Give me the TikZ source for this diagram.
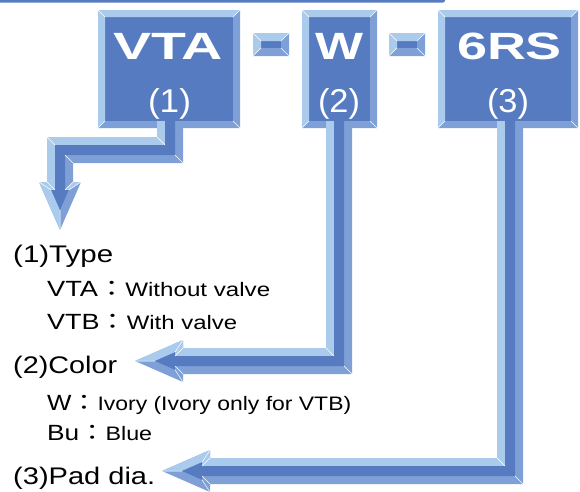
\documentclass[tikz,border=0pt]{standalone}
\usepackage{fontspec}
\setmainfont{Liberation Sans}
\newfontfamily\cjk{Noto Sans CJK JP}
\usepackage{graphicx}
\definecolor{face}{RGB}{86,123,192}
\definecolor{lite}{RGB}{170,203,236}
\definecolor{mid}{RGB}{126,160,214}
\newcommand\fw{{\cjk ：}}
\newcommand\sm{\fontsize{19.5}{19.5}\selectfont}
\newcommand\lbl[3]{\resizebox{#1pt}{\height}{\fontsize{#2}{#2}\selectfont #3}}
\newcommand\bevel[2]{%
 \fill[lite] (#1.north west) -- (#1.north east) -- ([xshift=-#2,yshift=-#2]#1.north east) -- ([xshift=#2,yshift=-#2]#1.north west) -- cycle;
 \fill[lite] (#1.north west) -- ([xshift=#2,yshift=-#2]#1.north west) -- ([xshift=#2,yshift=#2]#1.south west) -- (#1.south west) -- cycle;
 \fill[mid] (#1.south west) -- ([xshift=#2,yshift=#2]#1.south west) -- ([xshift=-#2,yshift=#2]#1.south east) -- (#1.south east) -- cycle;
 \fill[mid] (#1.south east) -- ([xshift=-#2,yshift=#2]#1.south east) -- ([xshift=-#2,yshift=-#2]#1.north east) -- (#1.north east) -- cycle;
 \draw[edgeline] (#1.north west) -- ([xshift=#2,yshift=-#2]#1.north west);
 \draw[edgeline] (#1.north east) -- ([xshift=-#2,yshift=-#2]#1.north east);
 \draw[edgeline] (#1.south west) -- ([xshift=#2,yshift=#2]#1.south west);
 \draw[edgeline] (#1.south east) -- ([xshift=-#2,yshift=#2]#1.south east);
}
\begin{document}
\begin{tikzpicture}[x=1pt,y=-1pt,
  boxface/.style={fill=face, draw=none, inner sep=0pt, outer sep=0pt},
  boxtxt/.style={anchor=base, inner sep=0pt, text=white},
  lab/.style={anchor=base west, inner sep=0pt, text=black},
  edgeline/.style={draw=white, line width=0.5pt}]
\useasboundingbox (0,0) rectangle (580,491);
% top bar
\fill[face, rounded corners=2pt] (-6,-6) rectangle (445,2.5);
% boxes
\node[boxface, minimum width=142pt, minimum height=118pt] (b1) at (169,69) {};
\node[boxface, minimum width=75pt, minimum height=118pt] (b2) at (339.5,69) {};
\node[boxface, minimum width=140pt, minimum height=118pt] (b3) at (508,69) {};
\node[boxface, minimum width=36pt, minimum height=23pt] (d1) at (271,44.5) {};
\node[boxface, minimum width=36pt, minimum height=23pt] (d2) at (407,44.5) {};
\bevel{b1}{7pt}
\bevel{b2}{7pt}
\bevel{b3}{7pt}
\bevel{d1}{8pt}
\bevel{d2}{8pt}
% box texts
\node[boxtxt] (v1) at (168,59) {\lbl{110}{38}{\bfseries VTA}};
\node[boxtxt] (v2) at (339,59) {\lbl{48}{38}{\bfseries W}};
\node[boxtxt] (v3) at (509.5,59) {\lbl{105}{38}{\bfseries 6RS}};
\node[boxtxt] (n1) at (169.5,112) {\lbl{43}{33}{(1)}};
\node[boxtxt] (n2) at (339,112) {\lbl{42}{33}{(2)}};
\node[boxtxt] (n3) at (508,112) {\lbl{42}{33}{(3)}};
% arrow 1
\fill[mid] (157,121) -- (183,121) -- (183,163) -- (73,163) -- (73,182) -- (81,182) -- (60,230) -- (39,182) -- (47,182) -- (47,137) -- (157,137) -- cycle;
\fill[lite] (60,230) -- (39,182) -- (47,182) -- (47,137) -- (157,137) -- (157,121) -- (165,121) -- (165,145) -- (55,145) -- (55,190) -- (51.23,190) -- (60,210) -- cycle;
\fill[lite] (73,182) -- (81,182) -- (68.77,190) -- (65,190) -- cycle;
\fill[face] (165,121) -- (175,121) -- (175,155) -- (65,155) -- (65,190) -- (68.77,190) -- (60,210) -- (51.23,190) -- (55,190) -- (55,145) -- (165,145) -- cycle;
\draw[edgeline] (183,163) -- (175,155) (73,163) -- (65,155) (73,182) -- (65,190) (81,182) -- (68.77,190) (60,230) -- (60,210) (39,182) -- (51.23,190) (47,182) -- (55,190) (47,137) -- (55,145) (157,137) -- (165,145);
% arrow 2
\fill[mid] (326,121) -- (352,121) -- (352,374) -- (183,374) -- (183,382) -- (135,361) -- (183,340) -- (183,348) -- (326,348) -- cycle;
\fill[lite] (135,361) -- (183,340) -- (183,348) -- (326,348) -- (326,121) -- (334,121) -- (334,356) -- (175,356) -- (175,352.23) -- (155,361) -- cycle;
\fill[face] (334,121) -- (344,121) -- (344,366) -- (175,366) -- (175,369.77) -- (155,361) -- (175,352.23) -- (175,356) -- (334,356) -- cycle;
\draw[edgeline] (352,374) -- (344,366) (183,374) -- (175,366) (183,382) -- (175,369.77) (135,361) -- (155,361) (183,340) -- (175,352.23) (183,348) -- (175,356) (326,348) -- (334,356);
% arrow 3
\fill[mid] (497,121) -- (523,121) -- (523,484) -- (210,484) -- (210,492) -- (162,471) -- (210,450) -- (210,458) -- (497,458) -- cycle;
\fill[lite] (162,471) -- (210,450) -- (210,458) -- (497,458) -- (497,121) -- (505,121) -- (505,466) -- (202,466) -- (202,462.23) -- (182,471) -- cycle;
\fill[face] (505,121) -- (515,121) -- (515,476) -- (202,476) -- (202,479.77) -- (182,471) -- (202,462.23) -- (202,466) -- (505,466) -- cycle;
\draw[edgeline] (523,484) -- (515,476) (210,484) -- (202,476) (210,492) -- (202,479.77) (162,471) -- (182,471) (210,450) -- (202,462.23) (210,458) -- (202,466) (497,458) -- (505,466);
% labels
\node[lab] (l1) at (13,262) {\lbl{100}{24}{(1)Type}};
\node[lab] (l2) at (47,296) {\lbl{223}{22}{VTA\fw\sm Without valve}};
\node[lab] (l3) at (47,329) {\lbl{190}{22}{VTB\fw\sm With valve}};
\node[lab] (l4) at (13,373) {\lbl{104}{24}{(2)Color}};
\node[lab] (l5) at (47,410) {\lbl{304}{22}{W\fw\sm Ivory (Ivory only for VTB)}};
\node[lab] (l6) at (47,440) {\lbl{105}{22}{Bu\fw\sm Blue}};
\node[lab] (l7) at (13,484) {\lbl{142}{24}{(3)Pad dia.}};
\end{tikzpicture}
\end{document}
